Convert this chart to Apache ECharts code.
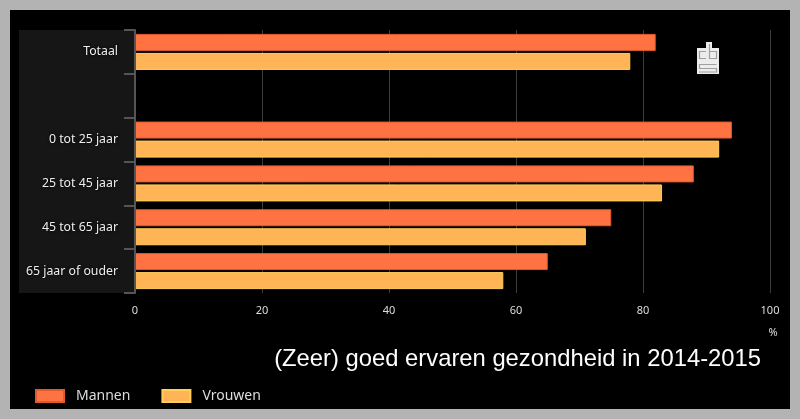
<!DOCTYPE html>
<html><head><meta charset="utf-8">
<script src="https://cdn.jsdelivr.net/npm/echarts@6/dist/echarts.min.js"></script>
<style>html,body{margin:0;padding:0;background:#b3b3b3;}#c{width:800px;height:419px;}</style>
</head><body><div id="c"></div>
<script>
const categories = ['Totaal', '', '0 tot 25 jaar', '25 tot 45 jaar', '45 tot 65 jaar', '65 jaar of ouder'];
const mannen = [82, null, 94, 88, 75, 65];
const vrouwen = [78, null, 92, 83, 71, 58];
const xTicks = [0, 20, 40, 60, 80, 100];
const titleText = '(Zeer) goed ervaren gezondheid in 2014-2015';
const seriesNames = ['Mannen', 'Vrouwen'];

const chart = echarts.init(document.getElementById('c'), null, {renderer: 'canvas'});
const font = 'Noto Sans';
const logoLine = {stroke: '#a0a0a0', lineWidth: 1.2, fill: null};
chart.setOption({
  backgroundColor: '#b3b3b3',
  animation: false,
  graphic: [
    {type: 'rect', z: -10, shape: {x: 10, y: 10, width: 780, height: 399}, style: {fill: '#000'}},
    {type: 'rect', z: -9, shape: {x: 19, y: 30, width: 116, height: 263}, style: {fill: '#161616'}},
    {type: 'text', z: 5, x: 773, y: 333, style: {text: '%', fill: '#dddddd', font: '11px "Noto Sans"', textAlign: 'center', textVerticalAlign: 'middle'}},
    {type: 'group', z: 5, children: [
      {type: 'rect', shape: {x: 697, y: 48, width: 22, height: 26}, style: {fill: '#ececec'}},
      {type: 'rect', shape: {x: 706, y: 42, width: 6, height: 7}, style: {fill: '#ececec'}},
      {type: 'polyline', shape: {points: [[706, 51.5], [699.5, 51.5], [699.5, 58.5], [706, 58.5]]}, style: logoLine},
      {type: 'polyline', shape: {points: [[709.5, 44], [709.5, 58.5], [716.5, 58.5], [716.5, 51.5], [709.5, 51.5]]}, style: logoLine},
      {type: 'polyline', shape: {points: [[716.5, 64.5], [699.5, 64.5], [699.5, 68.5], [716.5, 68.5], [716.5, 72], [699, 72]]}, style: logoLine}
    ]}
  ],
  title: {
    text: titleText, right: 34, top: 342,
    textStyle: {color: '#ffffff', fontSize: 23.8, fontWeight: 'normal', fontFamily: 'Liberation Sans'}
  },
  legend: {
    left: 35, top: 389, padding: 0, itemWidth: 28, itemHeight: 12, itemGap: 31,
    icon: 'rect',
    textStyle: {color: '#dddddd', fontSize: 14, fontFamily: font, padding: [0, 0, 0, 7]},
    data: seriesNames
  },
  grid: {left: 135, right: 30, top: 30, bottom: 126, containLabel: false},
  xAxis: {
    type: 'value', min: xTicks[0], max: xTicks[xTicks.length - 1], interval: 20,
    axisLine: {show: false}, axisTick: {show: false},
    axisLabel: {color: '#dddddd', fontSize: 11, fontFamily: font, margin: 12},
    splitLine: {show: true, lineStyle: {color: '#3c3c3c', width: 1}}
  },
  yAxis: {
    type: 'category', inverse: true, data: categories, z: 10,
    axisLine: {show: true, lineStyle: {color: '#555555', width: 2}},
    axisTick: {show: true, length: 11, lineStyle: {color: '#555555', width: 2}},
    axisLabel: {color: '#eeeeee', fontSize: 12.3, fontFamily: font, margin: 17,
      textShadowColor: '#000', textShadowBlur: 3},
    splitLine: {show: false}
  },
  series: [
    {name: seriesNames[0], type: 'bar', data: mannen, barWidth: 17, barGap: '12%',
      itemStyle: {color: '#ff7343', borderColor: '#e05a2e', borderWidth: 1}},
    {name: seriesNames[1], type: 'bar', data: vrouwen, barWidth: 17,
      itemStyle: {color: '#ffb555', borderColor: '#ffcf5a', borderWidth: 1}}
  ]
});
</script></body></html>
